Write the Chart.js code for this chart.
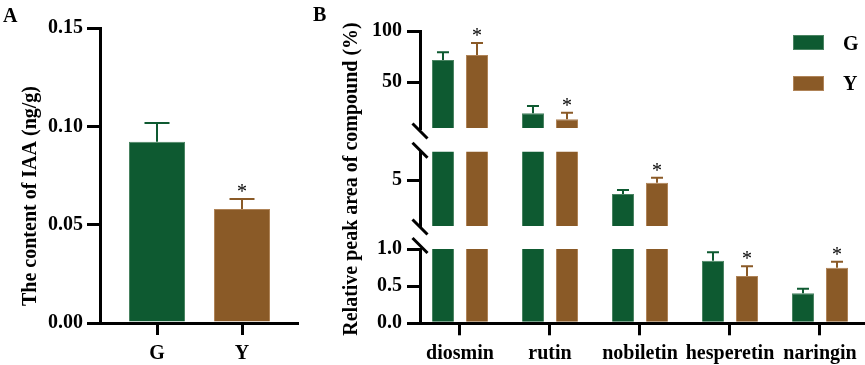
<!DOCTYPE html>
<html><head><meta charset="utf-8">
<script src="https://cdn.jsdelivr.net/npm/chart.js@4.4.1/dist/chart.umd.min.js"></script>
<style>
html,body{margin:0;padding:0;background:#fff;}
#wrap{position:relative;width:865px;height:365px;overflow:hidden;background:#fff;font-family:'Liberation Serif','Times New Roman',serif;}
canvas{position:absolute;}
.lbl{position:absolute;font-weight:bold;font-size:20px;line-height:20px;color:#000;white-space:nowrap;}
.sw{position:absolute;width:29px;height:13px;}
</style></head><body>
<div id="wrap">
<canvas id="cA" width="310" height="365" style="left:0;top:0"></canvas>
<canvas id="cB1" width="565" height="365" style="left:300px;top:0"></canvas>
<canvas id="cB2" width="565" height="365" style="left:300px;top:0"></canvas>
<canvas id="cB3" width="565" height="365" style="left:300px;top:0"></canvas>
<div class="lbl" style="left:3px;top:4.5px">A</div>
<div class="lbl" style="left:313px;top:3.5px">B</div>
<div class="sw" id="swG" style="left:793px;top:34.5px"></div>
<div class="lbl" style="left:843px;top:32.5px">G</div>
<div class="sw" id="swY" style="left:793px;top:75.5px"></div>
<div class="lbl" style="left:843px;top:73px">Y</div>
</div>
<script>
// ---------- data: panel A ----------
const groupsA = ['G', 'Y'];
const iaaMean = [0.0922, 0.0580];
const iaaErr  = [0.0095, 0.0051];
const iaaSig  = ['', '*'];
const ticksA  = [0, 0.05, 0.10, 0.15];

// ---------- data: panel B ----------
const compounds = ['diosmin', 'rutin', 'nobiletin', 'hesperetin', 'naringin'];
const gMean = [71.6, 19.4, 3.80, 0.843, 0.404];
const gErr  = [7.5, 7.1, 0.35, 0.112, 0.062];
const gSig  = ['', '', '', '', ''];
const yMean = [76.5, 13.5, 4.79, 0.637, 0.748];
const yErr  = [11.7, 6.5, 0.44, 0.130, 0.081];
const ySig  = ['*', '*', '*', '*', '*'];
const ticksTop = [50, 100];
const ticksMid = [5];
const ticksLow = [0, 0.5, 1.0];
const segTop = [5, 100];
const segMid = [1, 7.5];
const segLow = [0, 1];

// ---------- styles ----------
const FONT = "'Liberation Serif', 'Times New Roman', serif";
const GREEN = '#0e5a31', BROWN = '#8a5a27';
const GREEN_EDGE = '#4a8462', BROWN_EDGE = '#b08458';
document.getElementById('swG').style.cssText += ';background:' + GREEN + ';border:1px solid ' + GREEN_EDGE;
document.getElementById('swY').style.cssText += ';background:' + BROWN + ';border:1px solid ' + BROWN_EDGE;
const tickFont = {family: FONT, size: 20, weight: 'bold'};

const errPlugin = {
  id: 'errBars',
  afterDatasetsDraw(chart, args, opts) {
    const ctx = chart.ctx, ys = chart.scales.y;
    chart.data.datasets.forEach((ds, di) => {
      const meta = chart.getDatasetMeta(di);
      meta.data.forEach((bar, i) => {
        const v = ds.data[i].y;
        if (v < ys.min || v > ys.max) return;
        const col = Array.isArray(ds.backgroundColor) ? ds.backgroundColor[i] : ds.backgroundColor;
        const top = ys.getPixelForValue(v + ds.err[i]);
        const base = ys.getPixelForValue(v);
        const x = bar.x;
        ctx.save();
        ctx.strokeStyle = col; ctx.lineWidth = opts.lineWidth;
        ctx.beginPath();
        ctx.moveTo(x, base); ctx.lineTo(x, top);
        ctx.moveTo(x - opts.cap, top); ctx.lineTo(x + opts.cap, top);
        ctx.stroke();
        if (ds.sig[i]) {
          ctx.fillStyle = '#000'; ctx.font = '20px ' + FONT;
          ctx.textAlign = 'center'; ctx.textBaseline = 'alphabetic';
          ctx.fillText(ds.sig[i], x, top + opts.starDy);
        }
        ctx.restore();
      });
    });
  }
};

const breakPlugin = {
  id: 'axisBreaks',
  afterDraw(chart, args, opts) {
    if (!opts.at) return;
    const {left, top, bottom} = chart.chartArea, ctx = chart.ctx;
    ctx.save(); ctx.strokeStyle = '#000'; ctx.lineWidth = 3;
    opts.at.forEach(pos => {
      const y = pos === 'top' ? top + opts.topDy : bottom + opts.bottomDy;
      ctx.beginPath(); ctx.moveTo(left - 7.5, y - 7.5); ctx.lineTo(left + 7.5, y + 7.5); ctx.stroke();
    });
    ctx.restore();
  }
};

const titlePlugin = {
  id: 'yTitle',
  afterDraw(chart, args, opts) {
    if (!opts.text) return;
    const ctx = chart.ctx;
    ctx.save(); ctx.translate(opts.x, opts.y); ctx.rotate(-Math.PI / 2);
    ctx.font = 'bold 20px ' + FONT; ctx.fillStyle = '#000';
    ctx.textAlign = 'center'; ctx.textBaseline = 'alphabetic';
    ctx.fillText(opts.text, 0, 0);
    ctx.restore();
  }
};

const axisGrid = (len) => ({display: true, drawOnChartArea: false, drawTicks: true, tickLength: len, color: '#000', lineWidth: 3, offset: false});
const axisBorder = {display: true, color: '#000', width: 3};

// ---------- panel A ----------
new Chart(document.getElementById('cA'), {
  type: 'bar',
  data: {datasets: [{
    data: iaaMean.map((v, i) => ({x: i, y: v})), err: iaaErr, sig: iaaSig,
    backgroundColor: [GREEN, BROWN], borderColor: [GREEN_EDGE, BROWN_EDGE], borderWidth: 1,
    categoryPercentage: 1, barPercentage: 0.659, clip: 0
  }]},
  options: {
    responsive: false, animation: false, events: [],
    layout: {padding: {top: 28, right: 13, left: 0, bottom: 0}},
    plugins: {legend: {display: false}, tooltip: {enabled: false},
      errBars: {lineWidth: 2, cap: 12.5, starDy: -1},
      yTitle: {text: 'The content of IAA (ng/g)', x: 36, y: 196}},
    scales: {
      x: {type: 'linear', display: true, min: -0.6706, max: 1.647, offset: false,
        afterFit(s) { s.height = 42; },
        afterBuildTicks(s) { s.ticks = groupsA.map((g, i) => ({value: i})); },
        ticks: {callback: v => groupsA[v], font: tickFont, color: '#000', padding: 7, maxRotation: 0, autoSkip: false},
        grid: axisGrid(12), border: axisBorder},
      y: {min: 0, max: 0.15,
        afterFit(s) { s.width = 100; },
        afterBuildTicks(s) { s.ticks = ticksA.map(v => ({value: v})); },
        ticks: {callback: v => v.toFixed(2), font: tickFont, color: '#000', padding: 4},
        grid: axisGrid(13), border: axisBorder}
    }
  },
  plugins: [errPlugin, titlePlugin]
});

// ---------- panel B (three axis segments) ----------
function makeB(id, seg, tks, fmt, padTop, padBottom, showX, breaks, title) {
  return new Chart(document.getElementById(id), {
    type: 'bar',
    data: {datasets: [
      {data: gMean.map((v, i) => ({x: i, y: v})), err: gErr, sig: gSig,
       backgroundColor: GREEN, borderColor: GREEN_EDGE, borderWidth: 1,
       categoryPercentage: 0.756, barPercentage: 0.647, clip: 0},
      {data: yMean.map((v, i) => ({x: i, y: v})), err: yErr, sig: ySig,
       backgroundColor: BROWN, borderColor: BROWN_EDGE, borderWidth: 1,
       categoryPercentage: 0.756, barPercentage: 0.647, clip: 0}
    ]},
    options: {
      responsive: false, animation: false, events: [],
      layout: {padding: {top: padTop, right: 0, left: 0, bottom: padBottom}},
      plugins: {legend: {display: false}, tooltip: {enabled: false},
        errBars: {lineWidth: 2, cap: 6, starDy: -1},
        axisBreaks: breaks,
        yTitle: title},
      scales: {
        x: {type: 'linear', min: -0.4444, max: 4.5, offset: false, display: showX,
          afterFit(s) { if (showX) s.height = 41.7; },
          afterBuildTicks(s) { s.ticks = compounds.map((c, i) => ({value: i})); },
          ticks: {callback: v => compounds[v], font: tickFont, color: '#000', padding: 7, maxRotation: 0, autoSkip: false},
          grid: axisGrid(12), border: axisBorder},
        y: {min: seg[0], max: seg[1],
          afterFit(s) { s.width = 120; },
          afterBuildTicks(s) { s.ticks = tks.map(v => ({value: v})); },
          ticks: {callback: fmt, font: tickFont, color: '#000', padding: 5},
          grid: axisGrid(13), border: axisBorder}
      }
    },
    plugins: [errPlugin, breakPlugin, titlePlugin]
  });
}
makeB('cB1', segTop, ticksTop, v => String(v), 31, 237, false,
  {at: ['bottom'], topDy: 0, bottomDy: 3}, {});
makeB('cB2', segMid, ticksMid, v => String(v), 151.7, 139, false,
  {at: ['top', 'bottom'], topDy: -1.5, bottomDy: 1}, {});
makeB('cB3', segLow, ticksLow, v => v.toFixed(1), 249, 0, true,
  {at: ['top'], topDy: -3.5, bottomDy: 0},
  {text: 'Relative peak area of compound (%)', x: 57, y: 179});
</script>
</body></html>
